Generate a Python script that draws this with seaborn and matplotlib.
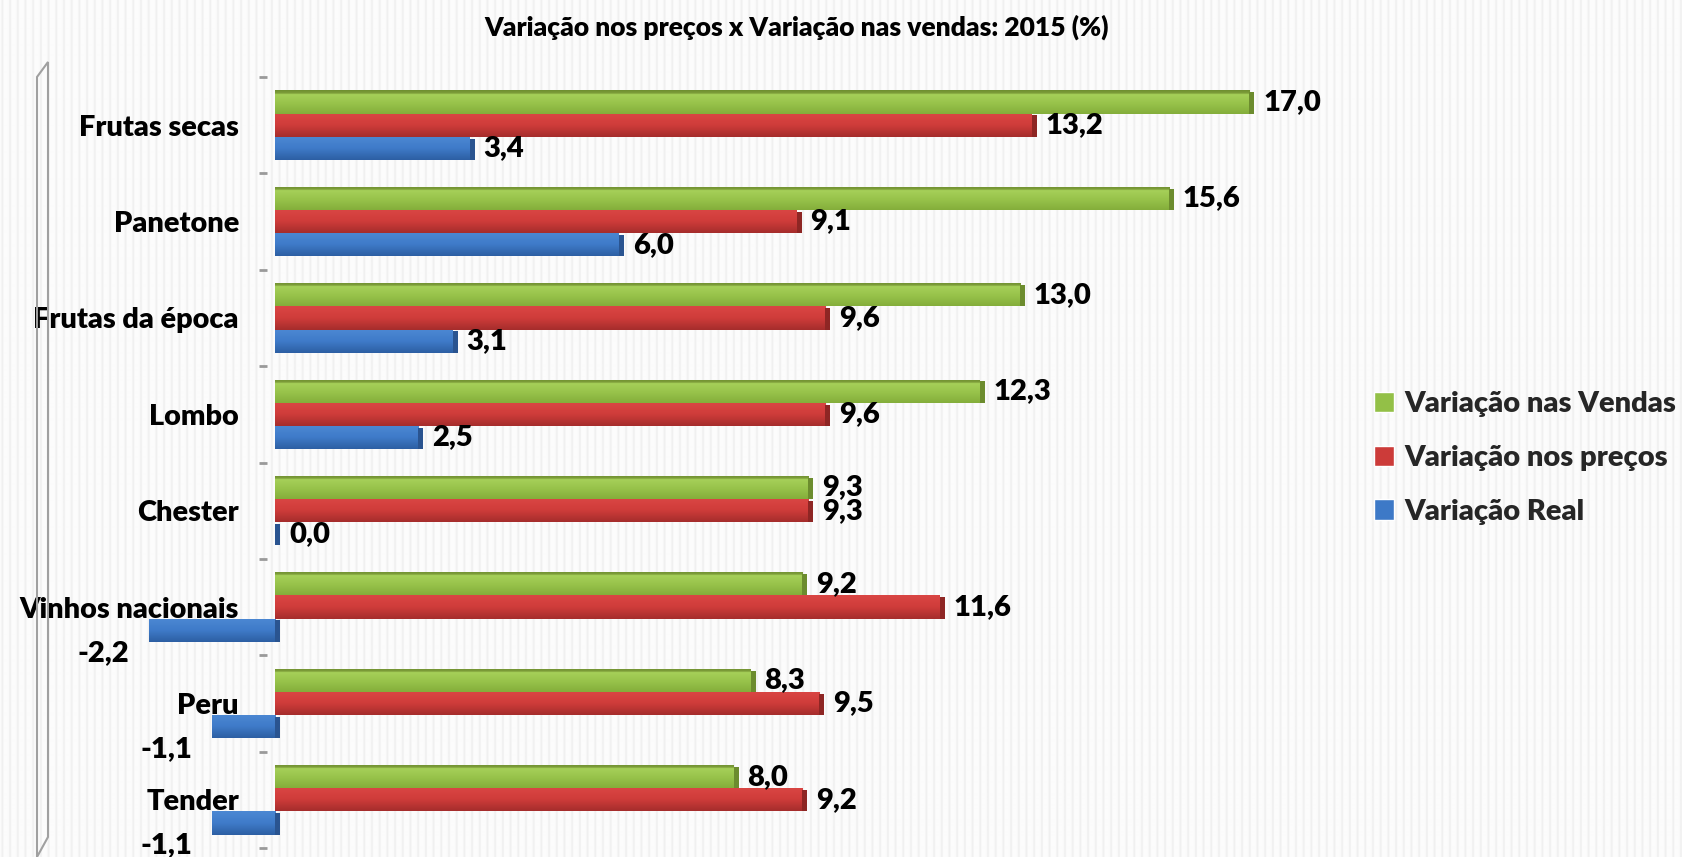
import numpy as np
import pandas as pd
import matplotlib
matplotlib.use("Agg")
import matplotlib.pyplot as plt
import seaborn as sns
from matplotlib.colors import LinearSegmentedColormap
from matplotlib.patches import Polygon, Rectangle

# ---------------- data ----------------
categories = ["Frutas secas", "Panetone", "Frutas da época", "Lombo",
              "Chester", "Vinhos nacionais", "Peru", "Tender"]
vendas = [17.0, 15.6, 13.0, 12.3, 9.3, 9.2, 8.3, 8.0]
precos = [13.2, 9.1, 9.6, 9.6, 9.3, 11.6, 9.5, 9.2]
real = [3.4, 6.0, 3.1, 2.5, 0.0, -2.2, -1.1, -1.1]
series = ["Variação nas Vendas", "Variação nos preços", "Variação Real"]
title = "Variação nos preços x Variação nas vendas: 2015 (%)"

colors = ["#93C047", "#CC3B39", "#3D79C7"]
cap_colors = ["#6C8C2E", "#8E2624", "#2A5490"]
grad_stops = [
    [(0.0, "#6F8F30"), (0.13, "#7E9F3A"), (0.17, "#A6D059"), (0.55, "#98C34B"), (1.0, "#84AE3B")],
    [(0.0, "#DA4644"), (0.5, "#CF3C3A"), (1.0, "#A52D2C")],
    [(0.0, "#4C88D3"), (0.5, "#3F7BC9"), (1.0, "#2D5FA3")],
]

df = pd.DataFrame({
    "Categoria": categories * 3,
    "Série": np.repeat(series, len(categories)),
    "Valor": vendas + precos + real,
})

sns.set_theme(style="white")
plt.rcParams["font.family"] = ["Lato", "DejaVu Sans"]
WEIGHT = "heavy"

W, H = 1683, 857
fig = plt.figure(figsize=(W / 100, H / 100), dpi=100)

# striped background
bg = fig.add_axes([0, 0, 1, 1], zorder=-10)
xs = np.arange(W)
row = 0.985 - 0.045 * np.clip(np.sin(2 * np.pi * xs / 7.7), 0, 1) ** 2
bg.imshow(np.tile(row, (2, 1)), cmap="gray", vmin=0, vmax=1, aspect="auto",
          extent=(0, 1, 0, 1), interpolation="bilinear")
bg.axis("off")

# main axes
x0_px, x1_px, top_px, bot_px = 275, 1278, 77, 848
ax = fig.add_axes([x0_px / W, (H - bot_px) / H, (x1_px - x0_px) / W, (bot_px - top_px) / H])
ax.patch.set_alpha(0)

sns.barplot(data=df, y="Categoria", x="Valor", hue="Série", hue_order=series,
            order=categories, palette=colors, width=0.72, orient="h",
            saturation=1, errorbar=None, ax=ax)
handles, labels = ax.get_legend_handles_labels()
if ax.get_legend() is not None:
    ax.get_legend().remove()

XMAX = 17.5
ax.set_xlim(0, XMAX)
ax.set_ylim(len(categories) - 0.5, -0.5)
px_per_unit = (x1_px - x0_px) / XMAX
cap_w = 5 / px_per_unit

for i, cont in enumerate(ax.containers):
    cmap = LinearSegmentedColormap.from_list(f"g{i}", grad_stops[i])
    grad = np.linspace(0, 1, 64).reshape(-1, 1)
    for p in cont:
        p.set_clip_on(False)
        p.set_edgecolor("none")
        x0, y0, w, h = p.get_x(), p.get_y(), p.get_width(), p.get_height()
        if abs(w) > 1e-9:
            im = ax.imshow(grad, cmap=cmap, aspect="auto", interpolation="bilinear",
                           extent=(x0, x0 + w, y0 + h, y0), zorder=1.1)
            im.set_clip_path(p)
        right = max(x0, x0 + w)
        cap = Rectangle((right, y0 + h * 0.08), cap_w, h * 0.92,
                        facecolor=cap_colors[i], edgecolor="none", zorder=1.2,
                        clip_on=False)
        ax.add_patch(cap)

ax.set_xlim(0, XMAX)
ax.set_ylim(len(categories) - 0.5, -0.5)


def fmt(v):
    return f"{v:.1f}".replace(".", ",")


for i, vals in enumerate([vendas, precos, real]):
    for j, v in enumerate(vals):
        p = ax.containers[i][j]
        yc = p.get_y() + p.get_height() / 2
        if v >= 0:
            ax.annotate(fmt(v), xy=(v, yc), xytext=(10, 0), textcoords="offset points",
                        ha="left", va="center", fontsize=21, fontweight=WEIGHT,
                        color="black", annotation_clip=False, zorder=5)
        else:
            ax.annotate(fmt(v), xy=(v, yc), xytext=(-14, -22), textcoords="offset points",
                        ha="right", va="baseline", fontsize=21, fontweight=WEIGHT,
                        color="black", annotation_clip=False, zorder=5)

# axes styling
ax.set_xlabel("")
ax.set_ylabel("")
ax.set_xticks([])
for s in ax.spines.values():
    s.set_visible(False)
ax.spines["left"].set_position(("outward", 6))
ax.set_yticks(range(len(categories)))
ax.set_yticklabels(categories, fontsize=20.8, fontweight=WEIGHT, color="black")
ax.set_yticks(np.arange(-0.5, len(categories), 1), minor=True)
ax.tick_params(axis="y", which="major", length=0, pad=20, left=False)
ax.tick_params(axis="y", which="minor", length=5.8, width=2, color="#9A9A9A", left=True)

# left 3D wall outline
pts = [(37, 77), (48, 62), (48, 837), (37, 857)]
wall = Polygon([(x / W, 1 - y / H) for x, y in pts], closed=True, fill=False,
               edgecolor="#A0A0A0", linewidth=1.5, transform=fig.transFigure)
fig.add_artist(wall)

# title
fig.text(797 / W, 1 - 27 / H, title, ha="center", va="center",
         fontsize=19, fontweight=WEIGHT, color="black")

# legend
fig.legend(handles, labels, loc="center left", bbox_to_anchor=(1374 / W, 1 - 458 / H),
           frameon=False, prop={"weight": WEIGHT, "size": 21},
           handlelength=0.7, handleheight=0.7, handletextpad=0.35,
           labelspacing=0.95, borderpad=0, borderaxespad=0)

fig.savefig("out.png", dpi=100)
